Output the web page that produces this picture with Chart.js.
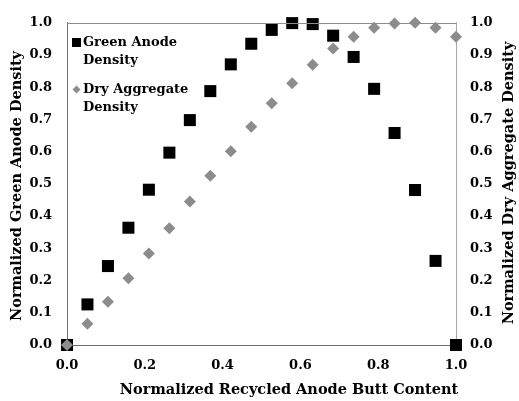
<!DOCTYPE html>
<html>
<head>
<meta charset="utf-8">
<script src="https://cdn.jsdelivr.net/npm/chart.js@4.4.0/dist/chart.umd.min.js"></script>
<style>
  html, body { margin: 0; padding: 0; background: #fff; }
  #wrap { width: 519px; height: 401px; }
</style>
</head>
<body>
<div id="wrap"><canvas id="c" width="519" height="401"></canvas></div>
<script>
// ---- data ----
const xValues = [0.0000, 0.0526, 0.1053, 0.1579, 0.2105, 0.2632, 0.3158, 0.3684, 0.4211, 0.4737,
                 0.5263, 0.5789, 0.6316, 0.6842, 0.7368, 0.7895, 0.8421, 0.8947, 0.9474, 1.0000];
const greenAnodeDensity = [0.000, 0.126, 0.245, 0.364, 0.482, 0.597, 0.698, 0.788, 0.871, 0.935,
                           0.978, 0.999, 0.996, 0.960, 0.894, 0.795, 0.658, 0.481, 0.261, 0.000];
const dryAggregateDensity = [0.000, 0.066, 0.134, 0.207, 0.284, 0.362, 0.445, 0.525, 0.601, 0.677,
                             0.750, 0.812, 0.870, 0.920, 0.957, 0.985, 0.998, 1.000, 0.985, 0.957];
const seriesNames = [["Green Anode", "Density"], ["Dry Aggregate", "Density"]];
const xTitle = "Normalized Recycled Anode Butt Content";
const yTitle = "Normalized Green Anode Density";
const y2Title = "Normalized Dry Aggregate Density";

const FONT = "'DejaVu Serif', 'Liberation Serif', serif";
const toPts = (ys) => ys.map((y, i) => ({ x: xValues[i], y }));

const titlePlugin = {
  id: 'customTitles',
  afterDraw(chart) {
    const ctx = chart.ctx;
    const ca = chart.chartArea;
    ctx.save();
    // top border line
    ctx.strokeStyle = '#8c8c8c';
    ctx.lineWidth = 1;
    ctx.beginPath();
    ctx.moveTo(ca.left, Math.round(ca.top) + 0.5);
    ctx.lineTo(ca.right, Math.round(ca.top) + 0.5);
    ctx.stroke();

    ctx.fillStyle = '#000';
    ctx.font = "bold 14.5px " + FONT;
    ctx.textAlign = 'center';
    ctx.textBaseline = 'middle';
    // x title
    ctx.fillText(xTitle, 289, 390);
    // left y title
    ctx.save();
    ctx.translate(17, 186);
    ctx.rotate(-Math.PI / 2);
    ctx.fillText(yTitle, 0, 0);
    ctx.restore();
    // right y title
    ctx.save();
    ctx.translate(509, 183);
    ctx.rotate(-Math.PI / 2);
    ctx.fillText(y2Title, 0, 0);
    ctx.restore();

    // legend
    ctx.font = "bold 13px " + FONT;
    ctx.textAlign = 'left';
    ctx.textBaseline = 'middle';
    // square marker
    ctx.fillStyle = '#000';
    ctx.fillRect(72, 38, 9, 9);
    ctx.fillText(seriesNames[0][0], 83, 43);
    ctx.fillText(seriesNames[0][1], 83, 61);
    // diamond marker
    ctx.fillStyle = '#8c8c8c';
    ctx.beginPath();
    ctx.moveTo(76.5, 85.5); ctx.lineTo(80.5, 89.5); ctx.lineTo(76.5, 93.5); ctx.lineTo(72.5, 89.5);
    ctx.closePath(); ctx.fill();
    ctx.fillStyle = '#000';
    ctx.fillText(seriesNames[1][0], 83, 90);
    ctx.fillText(seriesNames[1][1], 83, 108);
    ctx.restore();
  }
};

new Chart(document.getElementById('c'), {
  type: 'scatter',
  data: {
    datasets: [
      {
        label: seriesNames[0].join(' '),
        data: toPts(greenAnodeDensity),
        yAxisID: 'y',
        pointStyle: 'rect',
        pointRadius: 8.5,
        pointHoverRadius: 8.5,
        backgroundColor: '#000',
        borderColor: '#000',
        borderWidth: 0,
        order: 2,
        clip: false
      },
      {
        label: seriesNames[1].join(' '),
        data: toPts(dryAggregateDensity),
        yAxisID: 'y2',
        pointStyle: 'rectRot',
        pointRadius: 6,
        pointHoverRadius: 6,
        backgroundColor: '#8c8c8c',
        borderColor: '#8c8c8c',
        borderWidth: 0,
        order: 1,
        clip: false
      }
    ]
  },
  options: {
    responsive: false,
    animation: false,
    events: [],
    layout: { padding: { top: 17, left: 0, right: 0, bottom: 0 } },
    plugins: { legend: { display: false }, tooltip: { enabled: false } },
    scales: {
      x: {
        type: 'linear', min: 0, max: 1,
        ticks: { stepSize: 0.2, color: '#000', font: { family: FONT, size: 13, weight: 'bold' }, padding: 13,
                 callback: v => v.toFixed(1) },
        grid: { drawOnChartArea: false, drawTicks: false },
        border: { display: true, color: '#6e6e6e', width: 1 },
        afterFit: s => { s.height = 56; }
      },
      y: {
        type: 'linear', position: 'left', min: 0, max: 1,
        ticks: { stepSize: 0.1, color: '#000', font: { family: FONT, size: 13, weight: 'bold' }, padding: 15,
                 callback: v => v.toFixed(1) },
        grid: { drawOnChartArea: false, drawTicks: false },
        border: { display: true, color: '#6e6e6e', width: 1 },
        afterFit: s => { s.width = 67; }
      },
      y2: {
        type: 'linear', position: 'right', min: 0, max: 1,
        ticks: { stepSize: 0.1, color: '#000', font: { family: FONT, size: 13, weight: 'bold' }, padding: 14,
                 callback: v => v.toFixed(1) },
        grid: { drawOnChartArea: false, drawTicks: false },
        border: { display: true, color: '#a6a6a6', width: 1 },
        afterFit: s => { s.width = 63; }
      }
    }
  },
  plugins: [titlePlugin]
});
</script>
</body>
</html>
